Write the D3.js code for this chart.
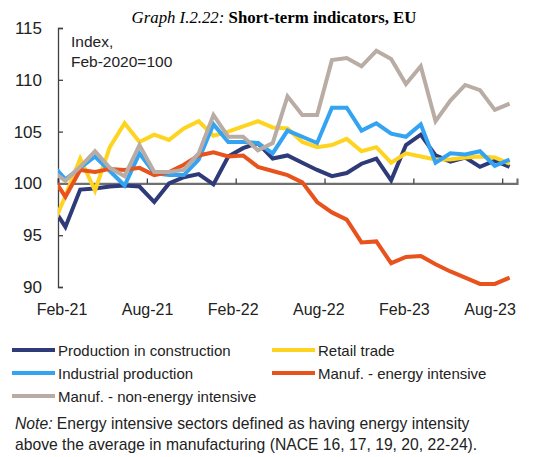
<!DOCTYPE html>
<html>
<head>
<meta charset="utf-8">
<script src="https://cdn.jsdelivr.net/npm/d3@7"></script>
<style>
  html, body { margin: 0; padding: 0; background: #fff; }
  svg { display: block; font-family: "Liberation Sans", Arial, sans-serif; }
</style>
</head>
<body>
<svg id="chart" width="543" height="457"></svg>
<script>
// Months (Jan-21 is only partly visible, clipped at the left edge)
const months = ["Jan-21","Feb-21","Mar-21","Apr-21","May-21","Jun-21","Jul-21","Aug-21","Sep-21","Oct-21","Nov-21","Dec-21",
  "Jan-22","Feb-22","Mar-22","Apr-22","May-22","Jun-22","Jul-22","Aug-22","Sep-22","Oct-22","Nov-22","Dec-22",
  "Jan-23","Feb-23","Mar-23","Apr-23","May-23","Jun-23","Jul-23","Aug-23"];
const tickLabels = ["Feb-21","Aug-21","Feb-22","Aug-22","Feb-23","Aug-23"];
const yTicks = [90, 95, 100, 105, 110, 115];

const construction = [98.0, 95.8, 99.4, 99.5, 99.7, 99.8, 99.7, 98.2, 100.0, 100.6, 100.9, 99.9,
  102.6, 103.4, 103.9, 102.4, 102.7, 102.0, 101.3, 100.7, 101.0, 101.9, 102.4, 100.3,
  103.7, 104.7, 102.7, 102.1, 102.5, 101.6, 102.2, 101.6];
const retail = [95.4, 98.8, 102.4, 99.3, 103.5, 105.8, 104.0, 104.7, 104.2, 105.3, 106.0, 104.6,
  105.0, 105.5, 106.0, 105.4, 105.3, 104.0, 103.5, 103.7, 104.3, 103.1, 103.5, 102.0,
  102.9, 102.6, 102.3, 102.3, 102.5, 102.6, 102.5, 101.9];
const industrial = [102.0, 100.4, 101.5, 102.6, 101.2, 99.8, 102.9, 101.0, 100.8, 100.8, 102.3, 105.7,
  104.0, 104.0, 103.9, 102.9, 105.1, 104.5, 103.9, 107.3, 107.3, 105.1, 105.8, 104.8,
  104.5, 105.7, 102.0, 102.9, 102.8, 103.1, 101.7, 102.3];
const energyIntensive = [100.9, 98.7, 101.3, 101.1, 101.4, 101.3, 101.5, 100.8, 101.1, 101.8, 102.7, 103.0,
  102.6, 102.7, 101.6, 101.2, 100.8, 100.1, 98.2, 97.2, 96.5, 94.3, 94.4, 92.3,
  92.9, 93.0, 92.2, 91.5, 90.9, 90.3, 90.3, 90.9];
const nonEnergyIntensive = [101.3, 100.25, 101.6, 103.1, 101.5, 100.7, 103.7, 101.1, 101.1, 101.3, 102.9, 106.6,
  104.5, 104.5, 103.2, 103.9, 108.4, 106.6, 106.6, 111.9, 112.1, 111.3, 112.8, 112.0,
  109.6, 111.3, 106.0, 108.0, 109.5, 109.0, 107.1, 107.7];

const seriesNames = ["Production in construction", "Retail trade", "Industrial production",
  "Manuf. - energy intensive", "Manuf. - non-energy intensive"];
const seriesColors = ["#2f3a78", "#ffd420", "#33a3f2", "#e8531d", "#b9aca5"];
const seriesValues = [construction, retail, industrial, energyIntensive, nonEnergyIntensive];

const svg = d3.select("#chart");

const plotLeft = 58, plotRight = 517, plotTop = 28, plotBottom = 287;
const x = d3.scaleLinear().domain([0.5, 31.5]).range([plotLeft, plotRight]);
const y = d3.scaleLinear().domain([90, 115]).range([plotBottom, plotTop]);

// Title
const title = svg.append("text")
  .attr("x", 274).attr("y", 23)
  .attr("text-anchor", "middle")
  .style("font-family", "'Liberation Serif', 'Times New Roman', serif")
  .style("font-size", "16.8px")
  .attr("fill", "#000");
title.append("tspan").style("font-style", "italic").text("Graph I.2.22: ");
title.append("tspan").style("font-weight", "bold").text("Short-term indicators, EU");

// Clip
svg.append("clipPath").attr("id", "plotclip")
  .append("rect").attr("x", plotLeft).attr("y", 0).attr("width", plotRight - plotLeft).attr("height", 457);

// Y axis
const yAxis = svg.append("g")
  .attr("transform", `translate(${plotLeft},0)`)
  .call(d3.axisLeft(y).tickValues(yTicks).tickSize(-5).tickPadding(16).tickFormat(d3.format("d")));
yAxis.select(".domain").attr("stroke", "#404040").attr("stroke-width", 1.3);
yAxis.selectAll(".tick line").attr("stroke", "#404040").attr("stroke-width", 1.3);
yAxis.selectAll(".tick text").attr("fill", "#222").style("font-size", "17px")
  .style("font-family", "'Liberation Sans', Arial, sans-serif");

// X axis at 100
const tickPositions = tickLabels.map((_, i) => 0.5 + 6 * i);
const xAxis = svg.append("g")
  .attr("transform", `translate(0,${y(100)})`)
  .call(d3.axisBottom(x).tickValues(tickPositions).tickSize(-5).tickFormat(""));
xAxis.select(".domain").attr("stroke", "#707070").attr("stroke-width", 2.2);
xAxis.selectAll(".tick line").attr("stroke", "#333").attr("stroke-width", 1.2);

// X labels along the bottom
const xl = d3.scalePoint().domain(tickLabels).range([62, 490]);
svg.append("g").selectAll("text").data(tickLabels).join("text")
  .attr("x", d => xl(d)).attr("y", 315)
  .attr("text-anchor", "middle")
  .style("font-size", "16px").attr("fill", "#222")
  .text(d => d);

// Unit note
svg.append("text").attr("x", 71).attr("y", 47).style("font-size", "15.5px").attr("fill", "#222").text("Index,");
svg.append("text").attr("x", 71).attr("y", 67).style("font-size", "15.5px").attr("fill", "#222").text("Feb-2020=100");

// Lines
const line = d3.line().x((d, i) => x(i)).y(d => y(d));
const plot = svg.append("g").attr("clip-path", "url(#plotclip)");
seriesValues.forEach((vals, k) => {
  plot.append("path")
    .datum(vals)
    .attr("fill", "none")
    .attr("stroke", seriesColors[k])
    .attr("stroke-width", 4)
    .attr("stroke-linejoin", "miter")
    .attr("d", line);
});

// Legend
const legendPos = [[12, 350], [272, 350], [12, 373], [272, 373], [12, 396]];
const leg = svg.append("g");
seriesNames.forEach((name, k) => {
  const [lx, ly] = legendPos[k];
  leg.append("line").attr("x1", lx).attr("x2", lx + 43).attr("y1", ly).attr("y2", ly)
    .attr("stroke", seriesColors[k]).attr("stroke-width", 4);
  leg.append("text").attr("x", lx + 46).attr("y", ly + 5.5)
    .style("font-size", "15px").attr("fill", "#222").text(name);
});

// Note
const note = svg.append("text").attr("x", 15).attr("y", 429).style("font-size", "15.7px").attr("fill", "#222");
note.append("tspan").style("font-style", "italic").text("Note:");
note.append("tspan").text(" Energy intensive sectors defined as having energy intensity");
svg.append("text").attr("x", 15).attr("y", 450).style("font-size", "15.7px").attr("fill", "#222")
  .text("above the average in manufacturing (NACE 16, 17, 19, 20, 22-24).");
</script>
</body>
</html>
